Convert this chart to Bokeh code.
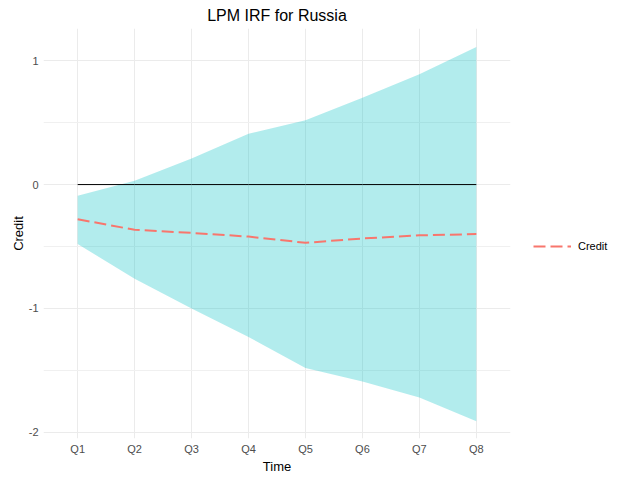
from bokeh.plotting import figure
from bokeh.models import FactorRange, FixedTicker, Legend, LegendItem
from bokeh.embed import file_html
from bokeh.resources import INLINE

# Data
periods = ["Q1", "Q2", "Q3", "Q4", "Q5", "Q6", "Q7", "Q8"]
credit = [-0.28, -0.365, -0.39, -0.42, -0.47, -0.435, -0.41, -0.40]
upper = [-0.09, 0.03, 0.21, 0.41, 0.52, 0.70, 0.89, 1.11]
lower = [-0.48, -0.76, -1.00, -1.23, -1.48, -1.59, -1.72, -1.91]
baseline = [0, 0, 0, 0, 0, 0, 0, 0]
y_ticks = [-2, -1, 0, 1]
y_minor = [-1.5, -0.5, 0.5]

FONT = "Liberation Sans"

p = figure(
    x_range=FactorRange(*periods, range_padding=0.1, range_padding_units="absolute"),
    y_range=(-2.05, 1.26),
    frame_width=467, frame_height=410,
    output_backend="svg", toolbar_location=None,
    title="LPM IRF for Russia",
    min_border_right=98, min_border_left=10, min_border_top=0, min_border_bottom=0,
)
p.margin = (0, 0, 0, 7)
p.outline_line_color = None
p.background_fill_color = "white"
p.border_fill_color = "white"

p.title.align = "center"
p.title.text_font = FONT
p.title.text_font_size = "16px"
p.title.text_font_style = "normal"
p.title.text_color = "#000000"
p.title.standoff = 9

# Ribbon
p.varea(x=periods, y1=lower, y2=upper, fill_color="#00BFC4", fill_alpha=0.3)
# zero line
p.line(x=periods, y=baseline, line_color="black", line_width=1)
# credit line
r = p.line(x=periods, y=credit, line_color="#F8766D", line_width=2, line_dash="12 5")

# Axes
for ax in (p.xaxis[0], p.yaxis[0]):
    ax.axis_line_color = None
    ax.major_tick_line_color = None
    ax.minor_tick_line_color = None
    ax.major_tick_out = 0
    ax.major_tick_in = 0
    ax.minor_tick_out = 0
    ax.minor_tick_in = 0
    ax.major_label_text_font = FONT
    ax.major_label_text_font_size = "11px"
    ax.major_label_text_color = "#4D4D4D"
    ax.axis_label_text_font = FONT
    ax.axis_label_text_font_size = "13px"
    ax.axis_label_text_font_style = "normal"
    ax.axis_label_text_color = "#000000"

p.xaxis.axis_label = "Time"
p.yaxis.axis_label = "Credit"
p.xaxis.major_label_standoff = 4
p.xaxis.axis_label_standoff = 1
p.yaxis.major_label_standoff = 5
p.yaxis.axis_label_standoff = 0
p.yaxis.ticker = FixedTicker(ticks=y_ticks, minor_ticks=y_minor)
p.yaxis.major_label_overrides = {t: str(t) for t in y_ticks}

p.xgrid.grid_line_color = "#EBEBEB"
p.ygrid.grid_line_color = "#EBEBEB"
p.ygrid.minor_grid_line_color = "#F0F0F0"

legend = Legend(items=[LegendItem(label="Credit", renderers=[r])],
                location=(23, 182))
legend.border_line_color = None
legend.background_fill_alpha = 0
legend.glyph_width = 38
legend.label_standoff = 7
legend.label_text_font = FONT
legend.label_text_font_size = "11px"
legend.label_text_color = "#000000"
legend.margin = 0
legend.padding = 10
p.add_layout(legend, "right")

open("out.html", "w").write(file_html(p, INLINE))
